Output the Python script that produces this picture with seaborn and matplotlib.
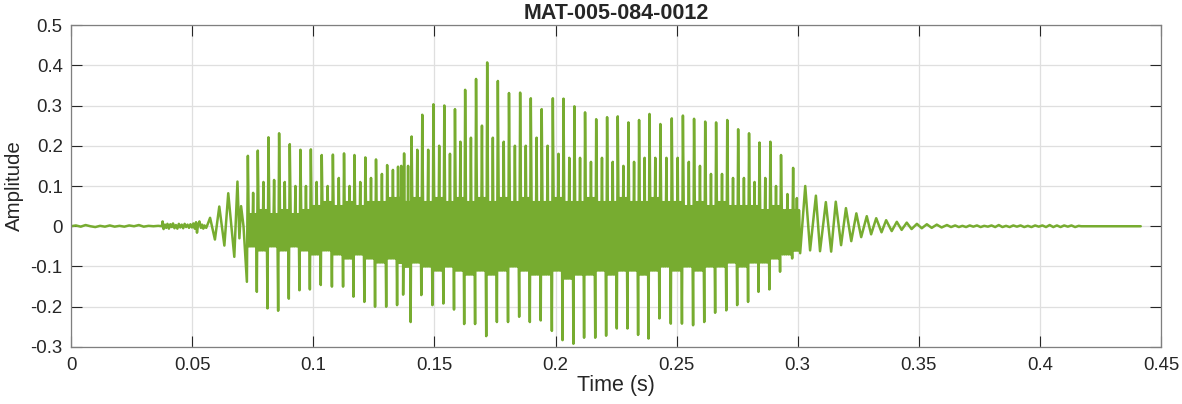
import numpy as np
import pandas as pd
import matplotlib
matplotlib.use("Agg")
import matplotlib.pyplot as plt
import seaborn as sns

# lead-in: silence, breath noise and the first onset swings (time s, amplitude)
lead_t = [0.0, 0.002, 0.004, 0.006, 0.008, 0.010, 0.012, 0.014, 0.016, 0.018,
          0.020, 0.022, 0.024, 0.026, 0.028, 0.030, 0.032, 0.034, 0.036, 0.0375,
          0.0378, 0.0382, 0.0388, 0.0393, 0.0398, 0.0404, 0.0410, 0.0416, 0.0421, 0.0427,
          0.0433, 0.0439, 0.0445, 0.0451, 0.0457, 0.0463, 0.0469, 0.0475, 0.0481, 0.0487,
          0.0493, 0.0499, 0.0505, 0.0511, 0.0516, 0.0520, 0.0524, 0.0530, 0.0536, 0.0541,
          0.0546, 0.0551, 0.0558, 0.0566, 0.0574, 0.0594, 0.0612, 0.0633, 0.0649, 0.0674,
          0.0687, 0.0695, 0.0702, 0.0712]
lead_v = [0.0, 0.002, -0.001, 0.003, 0.0, -0.002, 0.001, -0.001, 0.002, -0.001,
          0.001, -0.001, 0.002, 0.0, 0.003, -0.001, 0.001, 0.0, 0.001, 0.0,
          0.012, -0.007, 0.004, -0.004, 0.006, -0.006, 0.005, -0.002, 0.007, -0.005,
          0.003, -0.006, 0.006, -0.003, 0.004, -0.005, 0.006, -0.002, 0.004, -0.004,
          0.005, -0.003, 0.007, -0.006, 0.010, -0.016, 0.002, 0.012, -0.004, 0.004,
          -0.006, 0.002, -0.004, 0.008, 0.021, -0.033, 0.049, -0.048, 0.082, -0.076,
          0.111, -0.030, 0.050, 0.000]

# voiced part: one entry per glottal cycle
cyc_t = [0.0730, 0.0771, 0.0815, 0.0859, 0.0903, 0.0947, 0.0990, 0.1035, 0.1081, 0.1127,
         0.1170, 0.1215, 0.1259, 0.1305, 0.1350, 0.1375, 0.1406, 0.1450, 0.1496, 0.1541,
         0.1585, 0.1627, 0.1672, 0.1718, 0.1762, 0.1808, 0.1854, 0.1898, 0.1943, 0.1989,
         0.2033, 0.2078, 0.2122, 0.2168, 0.2213, 0.2257, 0.2301, 0.2345, 0.2388, 0.2433,
         0.2480, 0.2526, 0.2572, 0.2618, 0.2663, 0.2709, 0.2754, 0.2799, 0.2842, 0.2887,
         0.2931, 0.2981]
cyc_hi = [0.175, 0.188, 0.221, 0.231, 0.204, 0.190, 0.191, 0.177, 0.178, 0.181,
          0.177, 0.171, 0.166, 0.152, 0.148, 0.181, 0.223, 0.277, 0.303, 0.300,
          0.291, 0.339, 0.366, 0.407, 0.361, 0.331, 0.332, 0.318, 0.291, 0.318,
          0.317, 0.298, 0.283, 0.266, 0.271, 0.273, 0.258, 0.264, 0.279, 0.254,
          0.268, 0.275, 0.267, 0.260, 0.258, 0.264, 0.241, 0.231, 0.208, 0.210,
          0.177, 0.145]
cyc_lo = [-0.138, -0.163, -0.204, -0.210, -0.180, -0.159, -0.157, -0.146, -0.150, -0.150,
          -0.175, -0.188, -0.200, -0.200, -0.196, -0.170, -0.238, -0.171, -0.196, -0.192,
          -0.207, -0.243, -0.243, -0.273, -0.238, -0.238, -0.225, -0.238, -0.234, -0.260,
          -0.283, -0.292, -0.277, -0.277, -0.272, -0.254, -0.254, -0.270, -0.279, -0.229,
          -0.242, -0.242, -0.246, -0.238, -0.215, -0.209, -0.196, -0.188, -0.163, -0.157,
          -0.113, -0.080]
cyc_hi2 = [0.083, 0.110, 0.115, 0.110, 0.100, 0.100,
           0.110, 0.100, 0.120, 0.100, 0.110, 0.120, 0.130, 0.140, 0.150, 0.150,
           0.190, 0.190, 0.200, 0.180, 0.210, 0.220, 0.250, 0.220, 0.210, 0.200, 0.200, 0.220,
           0.200, 0.180, 0.170, 0.170, 0.160, 0.170, 0.160, 0.150, 0.160, 0.170, 0.170, 0.170,
           0.170, 0.160, 0.150, 0.130, 0.130, 0.120, 0.120, 0.110,
           0.120, 0.100, 0.080, 0.070]
core_hi = [0.03, 0.04, 0.03, 0.04, 0.03, 0.04,
           0.05, 0.06, 0.05, 0.06, 0.05, 0.06, 0.06, 0.07, 0.07, 0.06,
           0.07, 0.06, 0.07, 0.06, 0.07, 0.06, 0.07, 0.06, 0.07, 0.06, 0.07, 0.06,
           0.06, 0.07, 0.06, 0.06, 0.07, 0.06, 0.06, 0.07, 0.06, 0.06, 0.07, 0.06,
           0.06, 0.05, 0.06, 0.05, 0.06, 0.05, 0.05, 0.05,
           0.04, 0.05, 0.04, 0.04]
core_lo = [-0.05, -0.06, -0.05, -0.06, -0.05, -0.06,
           -0.07, -0.06, -0.07, -0.08, -0.07, -0.08, -0.09, -0.08, -0.09, -0.10,
           -0.09, -0.10, -0.11, -0.10, -0.11, -0.12, -0.11, -0.12, -0.11, -0.10, -0.11, -0.12,
           -0.12, -0.11, -0.13, -0.12, -0.12, -0.11, -0.12, -0.11, -0.11, -0.12, -0.11, -0.10,
           -0.11, -0.10, -0.11, -0.10, -0.10, -0.09, -0.10, -0.09,
           -0.09, -0.08, -0.07, -0.06]

# decay ringing, low noise and trailing silence
tail_t = [0.3010, 0.3031, 0.3051, 0.3075, 0.3092, 0.3116, 0.3138, 0.3157, 0.3179, 0.3199,
          0.3221, 0.3242, 0.3262, 0.3285, 0.3303, 0.3324, 0.3346, 0.3365, 0.3388, 0.3409,
          0.3429, 0.3450, 0.3470, 0.3492, 0.3512, 0.3533, 0.3553, 0.3574, 0.3594, 0.3616,
          0.3633, 0.3650, 0.3665, 0.3680, 0.3695, 0.3710, 0.3725, 0.3740, 0.3755, 0.3770,
          0.3785, 0.3800, 0.3815, 0.3830, 0.3845, 0.3860, 0.3875, 0.3890, 0.3905, 0.3920,
          0.3935, 0.3950, 0.3965, 0.3980, 0.3995, 0.4010, 0.4025, 0.4040, 0.4055, 0.4070,
          0.4085, 0.4100, 0.4115, 0.4130, 0.4145, 0.4160, 0.4170, 0.4416]
tail_v = [-0.067, 0.100, -0.060, 0.076, -0.062, 0.060, -0.063, 0.061, -0.047, 0.045,
          -0.037, 0.032, -0.027, 0.025, -0.020, 0.020, -0.015, 0.015, -0.012, 0.011,
          -0.009, 0.009, -0.007, 0.006, -0.005, 0.005, -0.004, 0.004, -0.003, 0.003,
          -0.002, 0.002, -0.002, 0.001, -0.002, 0.002, -0.001, 0.002, -0.002, 0.001,
          -0.001, 0.002, -0.002, 0.003, -0.002, 0.001, -0.002, 0.002, -0.001, 0.002,
          -0.002, 0.001, -0.002, 0.002, -0.001, 0.002, -0.002, 0.003, -0.002, 0.002,
          -0.002, 0.002, -0.001, 0.002, -0.002, 0.001, 0.0, 0.0]

x_ticks = [0, 0.05, 0.1, 0.15, 0.2, 0.25, 0.3, 0.35, 0.4, 0.45]
y_ticks = [-0.3, -0.2, -0.1, 0, 0.1, 0.2, 0.3, 0.4, 0.5]

# string the cycles together: trough, spike, ringing, secondary peak, ringing
t_all, v_all = list(lead_t), list(lead_v)
next_t = cyc_t[1:] + [tail_t[0]]
for i, t0 in enumerate(cyc_t):
    P = next_t[i] - t0
    cl, ch = core_lo[i], core_hi[i]
    seq = [(-0.0004, cyc_lo[i]), (0.0, cyc_hi[i]),
           (0.12 * P, cl), (0.20 * P, ch), (0.28 * P, cl), (0.36 * P, ch), (0.44 * P, cl),
           (0.53 * P, cyc_hi2[i]), (0.61 * P, cl), (0.69 * P, ch), (0.77 * P, cl), (0.83 * P, ch)]
    for dt, v in seq:
        t_all.append(t0 + dt)
        v_all.append(v)
t_all += tail_t
v_all += tail_v

wave = pd.DataFrame({"Time (s)": t_all, "Amplitude": v_all})

sns.set_style("whitegrid")
plt.rcParams["font.family"] = ["Liberation Sans", "DejaVu Sans"]
plt.rcParams["axes.unicode_minus"] = False

fig = plt.figure(figsize=(11.82, 4.04), dpi=100)
ax = fig.add_axes([0.0601, 0.1411, 0.9222, 0.797])

sns.lineplot(data=wave, x="Time (s)", y="Amplitude", ax=ax, sort=False,
             estimator=None, color="#77AC30", linewidth=1.8)

ax.set_xlim(0, 0.45)
ax.set_ylim(-0.3, 0.5)
ax.set_xticks(x_ticks)
ax.set_yticks(y_ticks)
ax.set_xticklabels([f"{v:g}" for v in x_ticks])
ax.set_yticklabels([f"{v:g}" for v in y_ticks])

ax.grid(True, color="#dfdfdf", linewidth=0.9)
ax.set_axisbelow(True)
for s in ax.spines.values():
    s.set_visible(True)
    s.set_color("#7f7f7f")
    s.set_linewidth(0.9)
ax.tick_params(direction="in", length=8, width=0.8, color="#262626",
               labelsize=13.4, labelcolor="#262626", top=True, right=True,
               bottom=True, left=True)
ax.tick_params(axis="x", pad=7)
ax.tick_params(axis="y", pad=6)

ax.set_xlabel("Time (s)", fontsize=15.5, color="#262626", labelpad=1)
ax.set_ylabel("Amplitude", fontsize=14.8, color="#262626", labelpad=5)
ax.set_title("MAT-005-084-0012", fontsize=15.5, fontweight="bold", color="#262626", pad=4)

fig.savefig("out.png", dpi=100, facecolor="white")
